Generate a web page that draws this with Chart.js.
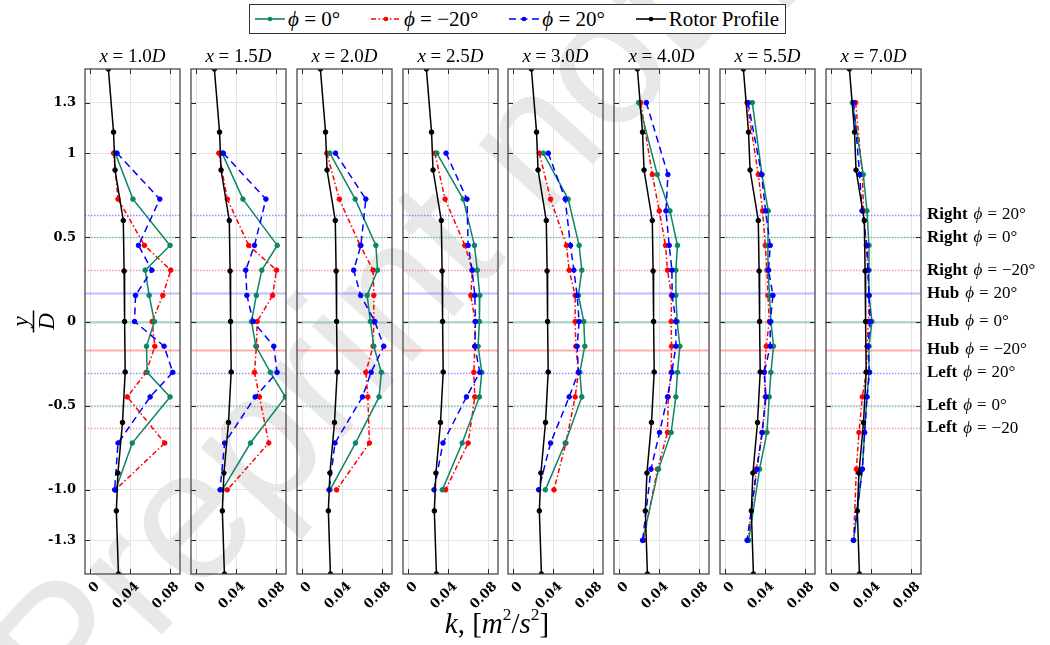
<!DOCTYPE html>
<html>
<head>
<meta charset="utf-8">
<script src="https://cdn.jsdelivr.net/npm/chart.js@4.4.0/dist/chart.umd.min.js"></script>
<style>
  html, body { margin: 0; padding: 0; background: #fff; }
  #wrap { position: relative; width: 1050px; height: 645px; overflow: hidden; }
  #wrap canvas { position: absolute; }
  .ttl { position: absolute; top: 45px; width: 95px; text-align: center;
         font-family: 'Liberation Serif', serif; font-size: 19px; white-space: nowrap; }
  #legend { position: absolute; left: 249px; top: 4px; width: 537px; height: 30px;
            border: 1px solid #333; background: #fff; display: flex; align-items: center;
            justify-content: space-between; padding: 0 6px 0 4px; box-sizing: border-box;
            font-family: 'Liberation Serif', serif; font-size: 21px; white-space: nowrap; }
  #legend span.it { display: flex; align-items: center; }
  #legend svg { margin-right: 2px; }
  #xlabel { position: absolute; left: 397px; width: 200px; top: 607px; text-align: center;
            font-family: 'Liberation Serif', serif; font-size: 29px; white-space: nowrap; }
  sup { font-size: 60%; vertical-align: 0.75em; line-height: 0; }
</style>
</head>
<body>
<div id="wrap">
  <canvas id="wm" width="1050" height="645"></canvas>
  <div id="legend"></div>
  <div id="xlabel"><i>k</i>, [<i>m</i><sup>2</sup>/<i>s</i><sup>2</sup>]</div>
</div>
<script>
// streamwise stations (x/D)
const stations = ['1.0', '1.5', '2.0', '2.5', '3.0', '4.0', '5.5', '7.0'];

// measurement heights y/D: first five stations, last three stations
const yNear = [1.0, 0.727, 0.452, 0.305, 0.155, 0, -0.147, -0.302, -0.448, -0.722, -1.0];
const yFar = [1.3, 0.873, 0.657, 0.452, 0.305, 0.155, 0, -0.147, -0.302, -0.448, -0.659, -0.877, -1.3];

// rotor profile (same at every station)
const rotorY = [1.5, 1.125, 0.9, 0.6, 0.3, 0, -0.3, -0.6, -0.9, -1.125, -1.5];
const rotorK = [0.018, 0.0232, 0.0247, 0.033, 0.0338, 0.0343, 0.0349, 0.0322, 0.0276, 0.026, 0.0281];

// turbulent kinetic energy k per station, phi = 0
const kPhi0 = [
  [0.025, 0.0427, 0.080, 0.055, 0.059, 0.0643, 0.0563, 0.057, 0.080, 0.042, 0.0253],
  [0.0258, 0.0467, 0.0812, 0.0657, 0.0602, 0.0553, 0.0597, 0.0743, 0.0893, 0.0543, 0.026],
  [0.0275, 0.053, 0.0738, 0.0755, 0.065, 0.0683, 0.0717, 0.0793, 0.077, 0.0533, 0.0277],
  [0.0285, 0.055, 0.0663, 0.0692, 0.0717, 0.0713, 0.070, 0.0737, 0.0713, 0.054, 0.034],
  [0.030, 0.055, 0.066, 0.0687, 0.0653, 0.0707, 0.0717, 0.0667, 0.0687, 0.052, 0.032],
  [0.0193, 0.038, 0.0507, 0.0583, 0.0567, 0.0567, 0.058, 0.0607, 0.0583, 0.0567, 0.052, 0.0393, 0.0233],
  [0.027, 0.0367, 0.043, 0.0427, 0.0427, 0.0443, 0.0457, 0.0483, 0.0457, 0.044, 0.0417, 0.0343, 0.0233],
  [0.021, 0.032, 0.0357, 0.0377, 0.0377, 0.0377, 0.0407, 0.0377, 0.0377, 0.0357, 0.0333, 0.031, 0.0223]
];

// phi = -20 deg
const kPhiM20 = [
  [0.0233, 0.0277, 0.0543, 0.0807, 0.0727, 0.062, 0.0647, 0.056, 0.037, 0.0747, 0.025],
  [0.0225, 0.031, 0.0525, 0.0805, 0.0765, 0.061, 0.0603, 0.0583, 0.0633, 0.0727, 0.031],
  [0.0245, 0.037, 0.058, 0.071, 0.0717, 0.0717, 0.071, 0.0637, 0.0657, 0.0673, 0.0343],
  [0.0265, 0.0368, 0.0567, 0.0642, 0.0627, 0.067, 0.0667, 0.0657, 0.0667, 0.060, 0.0373],
  [0.026, 0.0373, 0.0533, 0.056, 0.062, 0.062, 0.0627, 0.0653, 0.062, 0.0527, 0.0407],
  [0.0213, 0.033, 0.040, 0.0463, 0.0483, 0.0523, 0.052, 0.0523, 0.052, 0.049, 0.0483, 0.0383, 0.024],
  [0.0217, 0.033, 0.0373, 0.040, 0.0417, 0.0427, 0.044, 0.041, 0.039, 0.040, 0.0373, 0.031, 0.0227],
  [0.0243, 0.031, 0.0323, 0.035, 0.0367, 0.0377, 0.0373, 0.0357, 0.035, 0.031, 0.0277, 0.025, 0.0223]
];

// phi = +20 deg
const kPhiP20 = [
  [0.0267, 0.0697, 0.0483, 0.0617, 0.0453, 0.0443, 0.074, 0.0827, 0.060, 0.0277, 0.0243],
  [0.027, 0.0698, 0.0583, 0.0495, 0.0507, 0.057, 0.0777, 0.081, 0.059, 0.0283, 0.0237],
  [0.0332, 0.0637, 0.0587, 0.0515, 0.0585, 0.0727, 0.0817, 0.069, 0.0603, 0.0327, 0.0267],
  [0.0378, 0.0588, 0.060, 0.064, 0.0667, 0.0673, 0.0667, 0.0717, 0.0583, 0.0347, 0.0257],
  [0.035, 0.052, 0.0573, 0.0607, 0.064, 0.066, 0.064, 0.0653, 0.056, 0.0373, 0.0253],
  [0.027, 0.0487, 0.0467, 0.050, 0.0527, 0.053, 0.0567, 0.0567, 0.0527, 0.0483, 0.0403, 0.0317, 0.0233],
  [0.0227, 0.0363, 0.0403, 0.045, 0.0433, 0.0477, 0.045, 0.045, 0.039, 0.0407, 0.0367, 0.0317, 0.0217],
  [0.0223, 0.0283, 0.0307, 0.0357, 0.0367, 0.0377, 0.039, 0.0367, 0.0383, 0.0357, 0.0333, 0.031, 0.022]
];

// rotor reference heights (right / hub / left for each yaw angle)
const refLevels = [0.633, 0.5, 0.305, 0.167, 0, -0.167, -0.305, -0.5, -0.633];
const refSides = ['Right', 'Right', 'Right', 'Hub', 'Hub', 'Hub', 'Left', 'Left', 'Left'];
const refPhi = [20, 0, -20, 20, 0, -20, 20, 0, -20];
const refAngleText = ['20°', '0°', '−20°', '20°', '0°', '−20°', '20°', '0°', '−20'];

const xTicks = [0, 0.04, 0.08];
const xTickLabels = ['0', '0.04', '0.08'];
const yTicks = [-1.3, -1.0, -0.5, 0, 0.5, 1, 1.3];
const yTickLabels = ['-1.3', '-1.0', '-0.5', '0', '0.5', '1', '1.3'];

const X_MIN = -0.0055, X_MAX = 0.09;
const Y_MIN = -1.5, Y_MAX = 1.5;

const GREEN = '#0e8567', RED = '#ff0000', BLUE = '#0000ff', BLACK = '#000000';
const refColor = {
  '20': { hub: 'rgba(120,120,255,0.5)', dot: 'rgba(60,60,255,0.55)' },
  '0': { hub: 'rgba(40,160,130,0.4)', dot: 'rgba(20,140,110,0.5)' },
  '-20': { hub: 'rgba(250,110,110,0.55)', dot: 'rgba(240,60,60,0.5)' }
};

const SERIF = "'Liberation Serif', 'DejaVu Serif', serif";
const TICK_FONT = { family: "'DejaVu Serif', serif", weight: 'bold', size: 13 };

// watermark across the figure
(function () {
  const ctx = document.getElementById('wm').getContext('2d');
  ctx.translate(70, 735);
  ctx.rotate(-47.5 * Math.PI / 180);
  ctx.font = "185px 'Liberation Sans', sans-serif";
  ctx.fillStyle = '#e8e8e8';
  ctx.fillText('Preprint not peer reviewed', 0, 0);
})();

// horizontal rotor reference lines, box frame and inward ticks
const framePlugin = {
  id: 'frame',
  beforeDatasetsDraw(chart) {
    const { ctx, chartArea: a, scales: { y } } = chart;
    ctx.save();
    refLevels.forEach((lv, j) => {
      const py = Math.round(y.getPixelForValue(lv)) + 0.5;
      const c = refColor[String(refPhi[j])];
      const hub = refSides[j] === 'Hub';
      ctx.strokeStyle = hub ? c.hub : c.dot;
      ctx.lineWidth = hub ? 2.2 : 1.3;
      ctx.setLineDash(hub ? [] : [1.5, 1.5]);
      ctx.beginPath();
      ctx.moveTo(a.left, py);
      ctx.lineTo(a.right, py);
      ctx.stroke();
    });
    ctx.restore();
  },
  afterDraw(chart, args, opts) {
    const { ctx, chartArea: a, scales: { x, y } } = chart;
    ctx.save();
    ctx.strokeStyle = '#262626';
    ctx.lineWidth = 1;
    ctx.beginPath();
    yTicks.forEach(v => {
      const py = Math.round(y.getPixelForValue(v)) + 0.5;
      ctx.moveTo(a.left, py); ctx.lineTo(a.left + 5, py);
      ctx.moveTo(a.right, py); ctx.lineTo(a.right - 5, py);
    });
    xTicks.forEach(v => {
      const px = Math.round(x.getPixelForValue(v)) + 0.5;
      ctx.moveTo(px, a.bottom); ctx.lineTo(px, a.bottom - 5);
      ctx.moveTo(px, a.top); ctx.lineTo(px, a.top + 5);
    });
    ctx.stroke();
    ctx.strokeStyle = '#4a4a4a';
    ctx.lineWidth = 1.3;
    ctx.strokeRect(a.left, a.top, a.right - a.left, a.bottom - a.top);

    if (opts.yTitle) {
      // y/D written as a fraction, turned on its side
      const cx = 33, cy = y.getPixelForValue(0);
      ctx.translate(cx, cy);
      ctx.rotate(-Math.PI / 2);
      ctx.fillStyle = '#000';
      ctx.strokeStyle = '#000';
      ctx.textAlign = 'center';
      ctx.font = 'italic 23px ' + SERIF;
      ctx.textBaseline = 'alphabetic';
      ctx.fillText('y', 0, -5);
      ctx.lineWidth = 1.5;
      ctx.beginPath(); ctx.moveTo(-11, 0.5); ctx.lineTo(11, 0.5); ctx.stroke();
      ctx.textBaseline = 'top';
      ctx.fillText('D', 0, 3);
      ctx.setTransform(1, 0, 0, 1, 0, 0);
    }

    if (opts.refLabels) {
      ctx.fillStyle = '#000';
      ctx.textBaseline = 'middle';
      ctx.textAlign = 'left';
      refLevels.forEach((lv, j) => {
        const py = y.getPixelForValue(lv);
        let px = a.right + 6;
        ctx.font = 'bold 17px ' + SERIF;
        ctx.fillText(refSides[j], px, py);
        px += ctx.measureText(refSides[j]).width + 6;
        ctx.font = 'italic 17px ' + SERIF;
        ctx.fillText('ϕ', px, py);
        px += ctx.measureText('ϕ').width + 5;
        ctx.font = '17px ' + SERIF;
        ctx.fillText('=', px, py);
        px += ctx.measureText('=').width + 5;
        ctx.fillText(refAngleText[j], px, py);
      });
    }
    ctx.restore();
  }
};

function series(ks, ys, color, dash, order) {
  return {
    data: ks.map((k, j) => ({ x: k, y: ys[j] })),
    borderColor: color,
    backgroundColor: color,
    pointBackgroundColor: color,
    pointBorderColor: color,
    borderWidth: 1.5,
    borderDash: dash,
    pointRadius: 2.3,
    pointBorderWidth: 1,
    tension: 0,
    order: order
  };
}

const wrap = document.getElementById('wrap');
const PANEL_LEFT0 = 85, PITCH = 105.85, PANEL_W = 95, PANEL_TOP = 69, PANEL_H = 505;
const PAD_TOP = 10, X_AXIS_H = 60;

stations.forEach((st, i) => {
  const left = Math.round(PANEL_LEFT0 + i * PITCH);
  const first = i === 0, last = i === stations.length - 1;
  const yW = first ? 85 : 0;
  const padL = first ? 0 : 20;
  const padR = last ? 135 : 10;
  const cw = yW + padL + PANEL_W + padR;
  const ch = PAD_TOP + PANEL_H + X_AXIS_H;

  const canvas = document.createElement('canvas');
  canvas.width = cw; canvas.height = ch;
  canvas.style.width = cw + 'px'; canvas.style.height = ch + 'px';
  canvas.style.left = (left - padL - yW) + 'px';
  canvas.style.top = (PANEL_TOP - PAD_TOP) + 'px';
  wrap.appendChild(canvas);

  const ttl = document.createElement('div');
  ttl.className = 'ttl';
  ttl.style.left = left + 'px';
  ttl.innerHTML = '<i>x</i> = ' + st + '<i>D</i>';
  wrap.appendChild(ttl);

  const ys = i >= 5 ? yFar : yNear;
  new Chart(canvas, {
    type: 'line',
    data: {
      datasets: [
        series(kPhi0[i], ys, GREEN, [], 2),
        series(kPhiM20[i], ys, RED, [5, 2.5, 1.5, 2.5], 3),
        series(kPhiP20[i], ys, BLUE, [7, 4.5], 1),
        series(rotorK, rotorY, BLACK, [], 0)
      ]
    },
    options: {
      responsive: false,
      animation: false,
      devicePixelRatio: 1,
      layout: { padding: { left: padL, right: padR, top: PAD_TOP, bottom: 0 } },
      plugins: {
        legend: { display: false },
        tooltip: { enabled: false },
        frame: { yTitle: first, refLabels: last }
      },
      scales: {
        x: {
          type: 'linear', min: X_MIN, max: X_MAX,
          afterBuildTicks: s => { s.ticks = xTicks.map(v => ({ value: v })); },
          afterFit: s => { s.height = X_AXIS_H; s.paddingLeft = 0; s.paddingRight = 0; },
          ticks: {
            autoSkip: false, minRotation: 45, maxRotation: 45, padding: 5, labelOffset: 7,
            color: '#000', font: TICK_FONT,
            callback: (v, idx) => xTickLabels[idx]
          },
          grid: { color: '#e4e4e4', lineWidth: 1, drawTicks: false },
          border: { display: false }
        },
        y: {
          type: 'linear', min: Y_MIN, max: Y_MAX,
          afterBuildTicks: s => { s.ticks = yTicks.map(v => ({ value: v })); },
          afterFit: s => { s.width = yW; s.paddingTop = 0; s.paddingBottom = 0; },
          ticks: {
            display: first, autoSkip: false, padding: 9,
            color: '#000', font: { family: "'DejaVu Serif', serif", weight: 'bold', size: 13 },
            callback: (v, idx) => yTickLabels[idx]
          },
          grid: { color: '#e4e4e4', lineWidth: 1, drawTicks: false },
          border: { display: false }
        }
      }
    },
    plugins: [framePlugin]
  });
});

// legend box
const legendItems = [
  { color: GREEN, dash: '', text: '<i>ϕ</i>&nbsp;=&nbsp;0°' },
  { color: RED, dash: '5 2.5 1.5 2.5', text: '<i>ϕ</i>&nbsp;=&nbsp;−20°' },
  { color: BLUE, dash: '7 4.5', text: '<i>ϕ</i>&nbsp;=&nbsp;20°' },
  { color: BLACK, dash: '', text: 'Rotor Profile' }
];
document.getElementById('legend').innerHTML = legendItems.map(it =>
  '<span class="it"><svg width="32" height="12"><line x1="1" y1="6" x2="31" y2="6" stroke="' + it.color +
  '" stroke-width="1.6" stroke-dasharray="' + it.dash + '"/><circle cx="16" cy="6" r="2.3" fill="' + it.color +
  '"/></svg>' + it.text + '</span>').join('');
</script>
</body>
</html>
